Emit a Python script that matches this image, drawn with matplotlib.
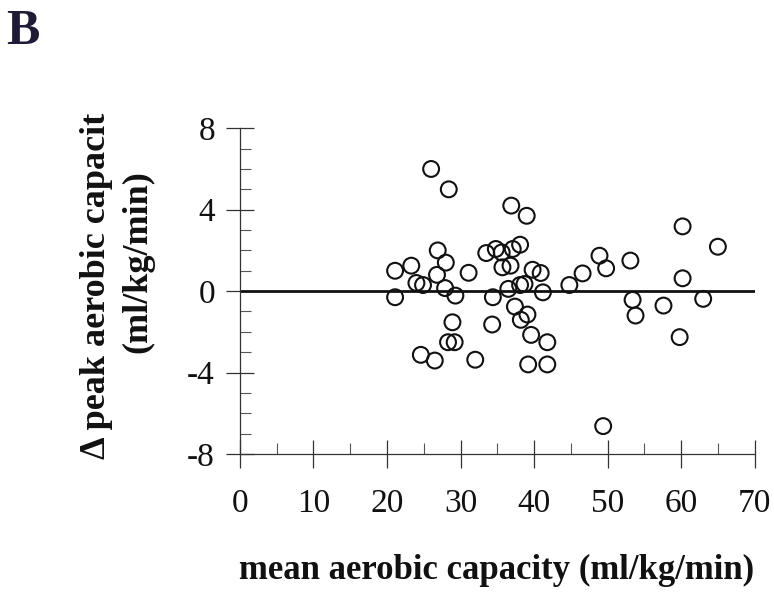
import matplotlib
matplotlib.use("Agg")
import matplotlib.pyplot as plt
from matplotlib.ticker import MultipleLocator

mean_capacity = [26.0, 28.4, 36.9, 39.0, 26.9, 28.0, 21.1, 23.3, 26.8, 24.0,
                 24.9, 27.9, 29.3, 21.1, 31.1, 33.5, 34.8, 35.6, 35.7, 36.8,
                 37.1, 38.1, 39.8, 40.9, 34.4, 36.5, 38.1, 38.7, 41.2, 44.8,
                 37.4, 39.1, 38.2, 28.9, 34.3, 39.6, 41.8, 28.3, 29.2, 24.6,
                 26.5, 32.0, 39.2, 41.8, 46.6, 48.9, 49.8, 53.1, 53.4, 53.8,
                 57.6, 60.2, 60.2, 59.8, 65.0, 63.0, 49.4]
delta_capacity = [6.0, 5.0, 4.2, 3.7, 2.0, 1.4, 1.0, 1.25, 0.8, 0.4,
                  0.3, 0.15, -0.22, -0.3, 0.9, 1.87, 2.07, 1.9, 1.17, 1.25,
                  2.07, 2.28, 1.05, 0.89, -0.3, 0.11, 0.3, 0.35, -0.06, 0.3,
                  -0.76, -1.15, -1.41, -1.53, -1.64, -2.15, -2.51, -2.51, -2.51, -3.13,
                  -3.41, -3.37, -3.6, -3.6, 0.87, 1.74, 1.12, 1.5, -0.43, -1.2,
                  -0.71, 3.18, 0.63, -2.26, 2.18, -0.38, -6.63]
x_ticks = [0, 10, 20, 30, 40, 50, 60, 70]
y_ticks = [-8, -4, 0, 4, 8]

serif = ["Liberation Serif", "DejaVu Serif"]
plt.rcParams["font.family"] = serif
plt.rcParams["axes.unicode_minus"] = False

fig = plt.figure(figsize=(7.74, 6.01), dpi=100)
ax = fig.add_axes([0.310, 0.2446, 0.665, 0.542])

ax.scatter(mean_capacity, delta_capacity, s=130, facecolors="none",
           edgecolors="#111111", linewidths=1.5, zorder=3)
ax.axhline(0, color="#111111", lw=2.0, zorder=2)

ax.set_xlim(0, 70)
ax.set_ylim(-8, 8)
ax.set_xticks(x_ticks)
ax.set_yticks(y_ticks)
ax.xaxis.set_minor_locator(MultipleLocator(5))
ax.yaxis.set_minor_locator(MultipleLocator(1))

for s in ["top", "right"]:
    ax.spines[s].set_visible(False)
for s in ["left", "bottom"]:
    ax.spines[s].set_linewidth(0.9)
    ax.spines[s].set_color("#333333")

ax.tick_params(axis="both", which="major", direction="inout", length=20,
               width=0.9, colors="#333333", labelsize=24, labelcolor="#111111")
ax.tick_params(axis="x", which="major", pad=15)
ax.tick_params(axis="y", which="major", pad=8)
ax.tick_params(axis="both", which="minor", direction="in", length=8,
               width=0.8, colors="#555555")

fig.text(0.642, 0.05, "mean aerobic capacity (ml/kg/min)", ha="center",
         va="center", fontsize=25, fontweight="bold", color="#111111")
fig.text(0.125, 0.525, "\u0394 peak aerobic capacit", ha="center", va="center",
         rotation=90, fontsize=26, fontweight="bold", color="#111111")
fig.text(0.178, 0.565, "(ml/kg/min)", ha="center", va="center",
         rotation=90, fontsize=26, fontweight="bold", color="#111111")
fig.text(0.008, 0.947, "B", ha="left", va="center", fontsize=36,
         fontweight="bold", color="#1e1a38")

fig.savefig("out.png", dpi=100)
